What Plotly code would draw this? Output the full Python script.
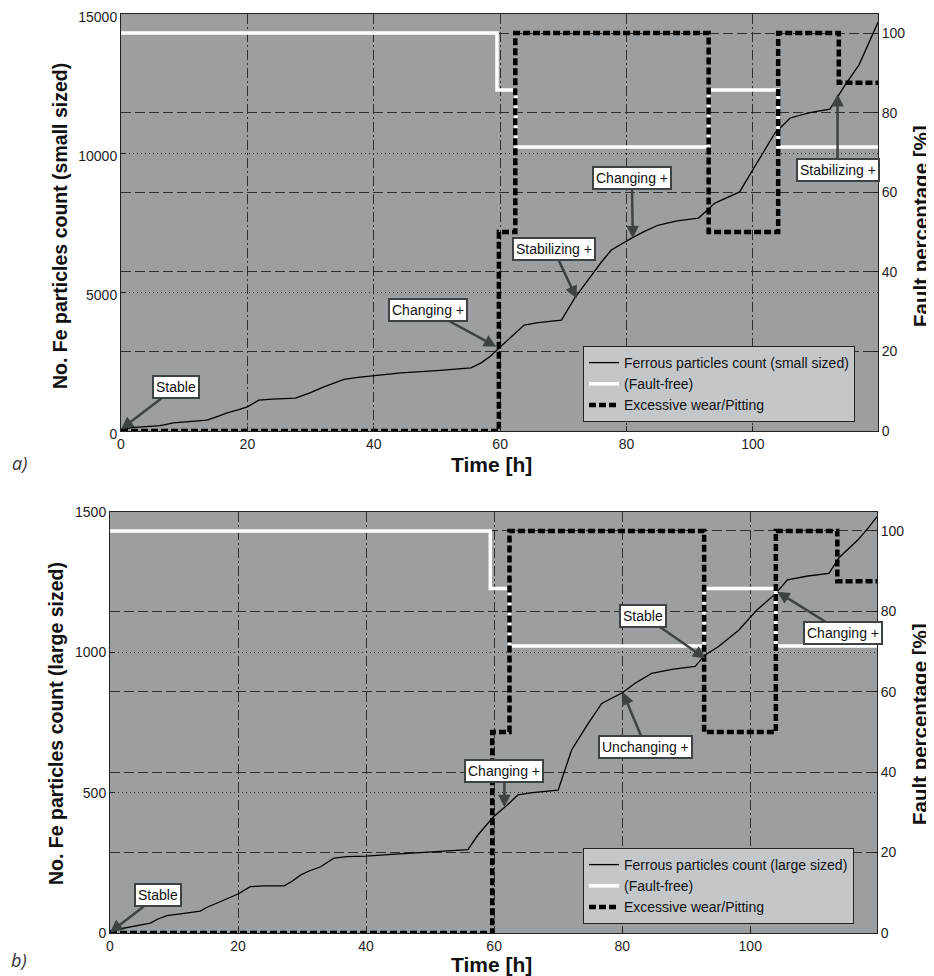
import plotly.graph_objects as go

# ---------------- data: a) small sized particles ----------------
t_small = [0, 2, 4, 6.2, 8.3, 11, 13.6, 15, 16.8, 18.5, 20, 21.8, 24, 27.6, 30, 32.1, 35.3, 37.5,
           40, 44.3, 50, 55.4, 57, 58.5, 60, 62, 63.8, 66, 69.7, 71.8, 74, 76, 77.6, 80.8, 83,
           85.1, 88, 91.4, 94, 97.9, 100, 103.5, 105.9, 109, 112.2, 114.6, 116.8, 119.8]
small_counts = [60, 130, 160, 190, 290, 330, 390, 500, 650, 760, 870, 1110, 1150, 1180, 1380,
                1590, 1860, 1930, 1980, 2090, 2170, 2270, 2450, 2700, 3020, 3420, 3810, 3900,
                3990, 4780, 5480, 6070, 6510, 6940, 7200, 7410, 7560, 7660, 8200, 8600, 9400,
                10720, 11260, 11450, 11580, 12450, 13170, 14700]

t_faultfree_a = [0, 59.5, 62.5, 93, 104, 119.8]
faultfree_a = [100, 85.7, 71.4, 85.7, 71.4, 71.4]
t_wear_a = [0, 59.8, 62.4, 93, 104, 113.6, 119.8]
wear_a = [0, 50, 100, 50, 100, 87.5, 87.5]

# ---------------- data: b) large sized particles ----------------
t_large = [0, 1.5, 2.6, 4.5, 6.3, 7.5, 8.9, 11, 14.1, 15, 16.2, 18, 20, 21.9, 24, 27.2, 28.5,
           29.8, 31, 32.9, 35, 37, 40, 44, 48, 52, 55.9, 57.5, 59.9, 62, 63.7, 66, 70, 72.1,
           74.5, 76.8, 80.1, 82, 84.6, 88, 91.4, 92.9, 95, 98.2, 101, 104, 105.8, 109, 112.3,
           113.9, 116.8, 118.5, 119.8]
large_counts = [8, 15, 20, 28, 35, 50, 62, 68, 78, 90, 102, 118, 139, 165, 168, 168, 185, 207,
                220, 236, 267, 272, 274, 280, 285, 290, 297, 350, 414, 455, 492, 500, 509, 652,
                740, 818, 857, 890, 925, 940, 950, 990, 1020, 1079, 1150, 1210, 1258, 1272,
                1281, 1338, 1400, 1445, 1483]

t_faultfree_b = [0, 59.4, 62.4, 92.8, 104, 119.8]
faultfree_b = [100, 85.7, 71.4, 85.7, 71.4, 71.4]
t_wear_b = [0, 59.7, 62.4, 92.8, 104, 113.6, 119.8]
wear_b = [0, 50, 100, 50, 100, 87.5, 87.5]

x_ticks = [0, 20, 40, 60, 80, 100]
pct_ticks = [0, 20, 40, 60, 80, 100]
small_ticks = [0, 5000, 10000, 15000]
small_tick_labels = ["0", "5000", "10000", "15000"]
large_ticks = [0, 500, 1000, 1500]
large_tick_labels = ["0", "500", "1000", "1500"]

# annotations: (text, x, y, ax, ay)
notes_a = [("Stable", 0, 60, 55, -42),
           ("Changing +", 59.4, 3030, -68, -37),
           ("Stabilizing +", 72.1, 4770, -23, -49),
           ("Changing +", 81, 6930, -1, -60),
           ("Stabilizing +", 113.4, 12120, 0, 76)]
notes_b = [("Stable", 0, 2, 48, -37),
           ("Changing +", 61.6, 448, 0, -36),
           ("Unchanging +", 80.1, 858, 23, 55),
           ("Stable", 93, 978, -62, -43),
           ("Changing +", 104.2, 1216, 66, 41)]

# the page places the figure 8 px from the window's top-left corner
OFF = 8
W, H = 934 - OFF, 976 - OFF
FONT = "Liberation Sans, Arial, sans-serif"
BG = "#9b9fa2"
GRID = "#2e2e2e"
BOX = "#3d4343"

fig = go.Figure()

def add_panel(t_c, c, t_ff, ff, t_w, w, xa, ya, ya2, leg, label):
    fig.add_trace(go.Scatter(x=t_c, y=c, xaxis=xa, yaxis=ya, mode="lines",
                             line=dict(color="black", width=1.3),
                             name="Ferrous particles count (%s sized)" % label, legend=leg))
    fig.add_trace(go.Scatter(x=t_ff, y=ff, xaxis=xa, yaxis=ya2, mode="lines",
                             line=dict(color="white", width=3.5, shape="hv"),
                             name="(Fault-free)", legend=leg))
    fig.add_trace(go.Scatter(x=t_w, y=w, xaxis=xa, yaxis=ya2, mode="lines",
                             line=dict(color="black", width=4.5, shape="hv", dash="7px,3px"),
                             name="Excessive wear/Pitting", legend=leg))

add_panel(t_small, small_counts, t_faultfree_a, faultfree_a, t_wear_a, wear_a,
          "x", "y", "y2", "legend", "small")
add_panel(t_large, large_counts, t_faultfree_b, faultfree_b, t_wear_b, wear_b,
          "x2", "y3", "y4", "legend2", "large")

def fx(px):
    return (px - OFF) / W

def fy(py):
    return 1 - (py - OFF) / H

def px_dom_x(a, b):
    return [fx(a), fx(b)]

def px_dom_y(top, bot):
    return [fy(bot), fy(top)]

tickfont = dict(family=FONT, size=14, color="#1e1e1e")
common_axis = dict(showline=True, linecolor="#222", linewidth=1, ticks="inside", ticklen=5,
                   tickcolor="#222", tickfont=tickfont, zeroline=False, gridcolor=GRID,
                   gridwidth=1, automargin=False, ticklabeloverflow="allow")

xa_common = dict(common_axis, range=[0, 119.8], tickvals=x_ticks, griddash="10px,3px,2px,3px",
                 mirror=True, showgrid=True)

legend_common = dict(xanchor="left", yanchor="bottom", bgcolor="#c3c7c9",
                     bordercolor="#222", borderwidth=1, itemwidth=30, tracegroupgap=0,
                     font=dict(family=FONT, size=14, color="#111"))

fig.update_layout(
    width=W, height=H, margin=dict(l=0, r=0, t=0, b=0, pad=0, autoexpand=False),
    paper_bgcolor="white", plot_bgcolor=BG,
    xaxis=dict(xa_common, domain=px_dom_x(121, 878), anchor="y"),
    yaxis=dict(common_axis, domain=px_dom_y(14, 431), anchor="x", range=[0, 15000],
               tickvals=small_ticks, ticktext=small_tick_labels, griddash="1px,3px", mirror=True,
               ticklabelshift=3),
    yaxis2=dict(common_axis, overlaying="y", side="right", anchor="x", range=[0, 104.8],
                tickvals=pct_ticks, griddash="10px,4px"),
    xaxis2=dict(xa_common, domain=px_dom_x(110, 877), anchor="y3"),
    yaxis3=dict(common_axis, domain=px_dom_y(512, 933), anchor="x2", range=[0, 1500],
                tickvals=large_ticks, ticktext=large_tick_labels, griddash="1px,3px", mirror=True),
    yaxis4=dict(common_axis, overlaying="y3", side="right", anchor="x2", range=[0, 104.7],
                tickvals=pct_ticks, griddash="10px,4px"),
    legend=dict(legend_common, x=fx(583), y=fy(422)),
    legend2=dict(legend_common, x=fx(583), y=fy(924)),
    showlegend=True,
)

annotations = []
for (txt, x, y, ax, ay), xr, yr in [(n, "x", "y") for n in notes_a] + [(n, "x2", "y3") for n in notes_b]:
    annotations.append(dict(text=txt, x=x, y=y, xref=xr, yref=yr, ax=ax, ay=ay,
                            showarrow=True, arrowhead=2, arrowsize=1, arrowwidth=2.5,
                            arrowcolor=BOX, standoff=0, bgcolor="white", bordercolor=BOX,
                            borderwidth=2, borderpad=2,
                            font=dict(family=FONT, size=14, color="#111")))

def paper_text(txt, xp, yp, size, bold=True, angle=0, family=FONT, color="#111", italic=False):
    t = "<b>%s</b>" % txt if bold else txt
    if italic:
        t = "<i>%s</i>" % t
    return dict(text=t, x=fx(xp), y=fy(yp), xref="paper", yref="paper", showarrow=False,
                textangle=angle, xanchor="center", yanchor="middle",
                font=dict(family=family, size=size, color=color))

annotations += [
    paper_text("No. Fe particles count (small sized)", 60, 226, 19.5, angle=-90),
    paper_text("Fault percentage [%]", 921, 226, 20.5, angle=-90),
    paper_text("Time [h]", 491, 464, 21),
    paper_text("No. Fe particles count (large sized)", 56, 724, 19.5, angle=-90),
    paper_text("Fault percentage [%]", 919, 724, 20.5, angle=-90),
    paper_text("Time [h]", 492, 964, 21),
    paper_text("a)", 19, 463, 18, bold=False, italic=True, family="Open Sans, sans-serif", color="#333"),
    paper_text("b)", 19, 960, 18, bold=False, italic=True, family="Open Sans, sans-serif", color="#333"),
]
fig.update_layout(annotations=annotations)

fig.write_html("out.html")
